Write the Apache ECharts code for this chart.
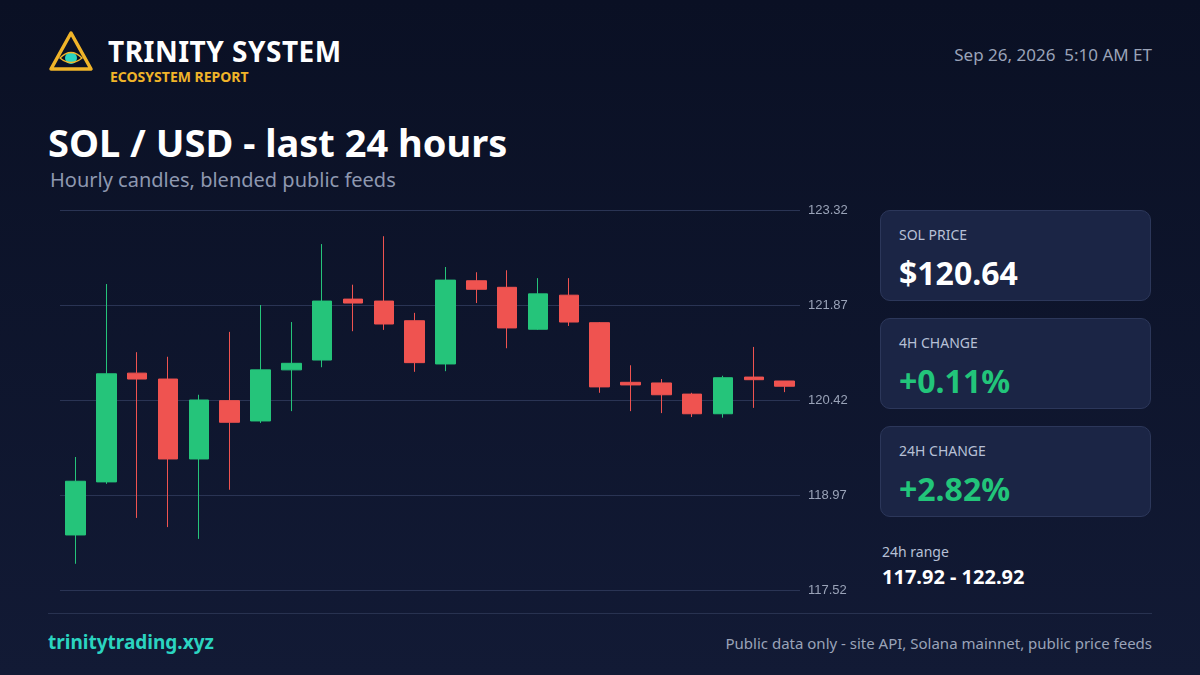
<!DOCTYPE html>
<html><head><meta charset="utf-8">
<script src="https://cdn.jsdelivr.net/npm/echarts@6/dist/echarts.min.js"></script>
<style>
body{margin:0;width:1200px;height:675px;overflow:hidden;background:linear-gradient(180deg,#0a1024 0%,#121a35 100%);font-family:"Noto Sans","Open Sans",sans-serif;color:#fff;position:relative}
.a{position:absolute}
.card{position:absolute;left:880px;width:271px;height:91px;background:#1b2545;border:1px solid #2c375a;border-radius:10px;box-sizing:border-box}
.card .l{position:absolute;left:18px;top:14px;font-size:14px;color:#b7c0d6}
.card .v{position:absolute;left:18px;top:40px;font-size:32px;font-weight:700}
</style></head><body>
<svg class="a" style="left:48px;top:30px" width="46" height="42" viewBox="0 0 46 42">
<polygon points="23,3 43,39 3,39" fill="none" stroke="#f0b429" stroke-width="3.5" stroke-linejoin="round"/>
<circle cx="23" cy="28" r="6" fill="#2bd4c0"/>
<path d="M12 28 Q23 17 34 28 Q23 37 12 28Z" fill="none" stroke="#f0b429" stroke-width="1.5"/>
</svg>
<div class="a" style="left:108px;top:32px;font-size:28px;font-weight:700;letter-spacing:0.5px">TRINITY SYSTEM</div>
<div class="a" style="left:110px;top:67px;font-size:14px;font-weight:700;color:#f0b429">ECOSYSTEM REPORT</div>
<div class="a" style="right:48px;top:43px;font-size:17px;color:#9aa3b8">Sep 26, 2026&nbsp; 5:10 AM ET</div>
<div class="a" style="left:48px;top:116px;font-size:38px;font-weight:700">SOL / USD - last 24 hours</div>
<div class="a" style="left:50px;top:166px;font-size:20px;color:#8e98b0">Hourly candles, blended public feeds</div>
<div id="c" class="a" style="left:0;top:0;width:880px;height:620px"></div>
<div class="card" style="top:210px"><div class="l">SOL PRICE</div><div class="v">$120.64</div></div>
<div class="card" style="top:318px"><div class="l">4H CHANGE</div><div class="v" style="color:#22c57a">+0.11%</div></div>
<div class="card" style="top:426px"><div class="l">24H CHANGE</div><div class="v" style="color:#22c57a">+2.82%</div></div>
<div class="a" style="left:882px;top:542px;font-size:14px;color:#b7c0d6">24h range</div>
<div class="a" style="left:882px;top:563px;font-size:20px;font-weight:700">117.92 - 122.92</div>
<div class="a" style="left:48px;top:613px;width:1104px;height:1px;background:#283250"></div>
<div class="a" style="left:48px;top:629px;font-size:19px;font-weight:700;color:#2bd4c0">trinitytrading.xyz</div>
<div class="a" style="right:48px;top:633px;font-size:15px;color:#9aa3b8">Public data only - site API, Solana mainnet, public price feeds</div>
<script>
const hours=['00','01','02','03','04','05','06','07','08','09','10','11','12','13','14','15','16','17','18','19','20','21','22','23'];
const opens =[118.36,119.17,120.83,120.74,119.52,120.41,120.10,120.88,121.03,121.96,121.93,121.63,120.97,122.24,122.14,121.50,122.02,121.60,120.69,120.68,120.51,120.21,120.77,120.71];
const closes=[119.18,120.82,120.74,119.52,120.42,120.08,120.88,120.98,121.93,121.90,121.58,120.99,122.25,122.11,121.52,122.04,121.61,120.62,120.65,120.50,120.21,120.76,120.73,120.63];
const lows  =[117.92,119.14,118.62,118.48,118.30,119.05,120.07,120.25,120.92,121.47,121.49,120.85,120.86,121.90,121.21,121.49,121.55,120.53,120.25,120.22,120.16,120.15,120.30,120.54];
const highs =[119.55,122.19,121.15,121.08,120.50,121.46,121.87,121.61,122.80,122.18,122.92,121.75,122.45,122.37,122.40,122.28,122.28,121.61,120.95,120.74,120.53,120.79,121.23,120.71];
const yTicks=[117.52,118.97,120.42,121.87,123.32];
const data=hours.map((h,i)=>[opens[i],closes[i],lows[i],highs[i]]);
const ch=echarts.init(document.getElementById('c'));
ch.setOption({animation:false,
grid:{left:60,right:80,top:210,bottom:30},
xAxis:{type:'category',data:hours,axisLine:{show:false},axisTick:{show:false},axisLabel:{show:false}},
yAxis:{type:'value',position:'right',min:yTicks[0],max:yTicks[4],interval:1.45,
 splitLine:{lineStyle:{color:'#2a3454'}},axisLine:{show:false},axisTick:{show:false},
 axisLabel:{color:'#9aa3b8',fontSize:13,margin:8,formatter:v=>v.toFixed(2)}},
series:[{type:'candlestick',data:data,barWidth:20,
 itemStyle:{color:'#25c47a',color0:'#ef5350',borderColor:'#25c47a',borderColor0:'#ef5350',borderWidth:1}}]});
</script></body></html>
